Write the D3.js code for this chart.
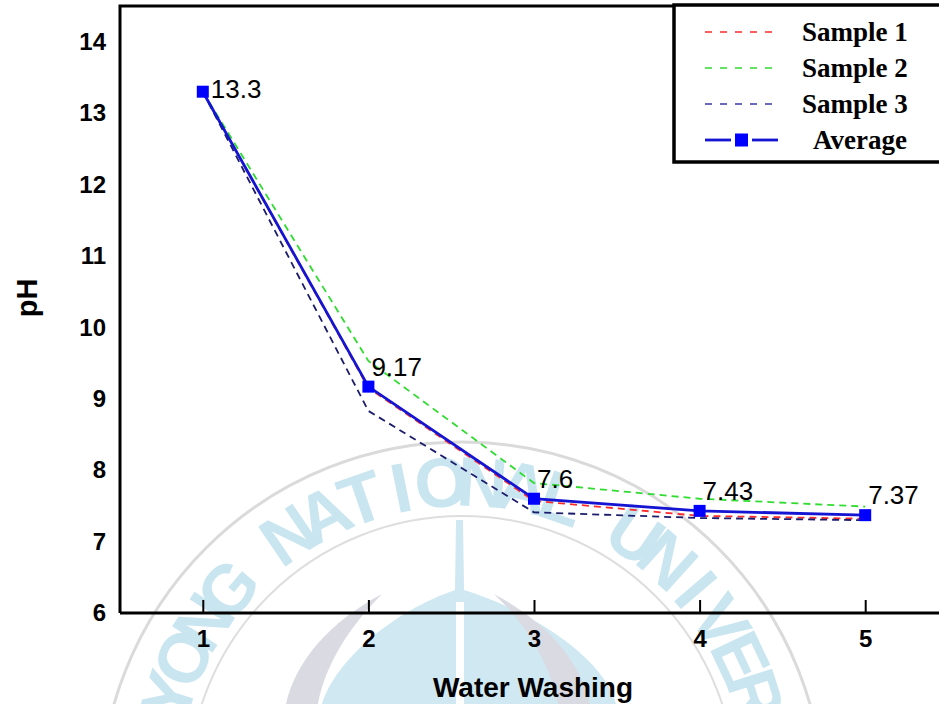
<!DOCTYPE html>
<html>
<head>
<meta charset="utf-8">
<script src="https://cdn.jsdelivr.net/npm/d3@7"></script>
<style>
  body { margin: 0; background: #fff; }
  svg { display: block; font-family: "Liberation Sans", Arial, sans-serif; }
</style>
</head>
<body>
<div id="chart"></div>
<script>
// data
const washes = [1, 2, 3, 4, 5];
const sample1 = [13.3, 9.15, 7.57, 7.36, 7.32];
const sample2 = [13.3, 9.53, 7.82, 7.6, 7.49];
const sample3 = [13.3, 8.83, 7.41, 7.33, 7.3];
const average = [13.3, 9.17, 7.6, 7.43, 7.37];
const avgLabels = ["13.3", "9.17", "7.6", "7.43", "7.37"];
const yTicks = [6, 7, 8, 9, 10, 11, 12, 13, 14];
const legendNames = ["Sample 1", "Sample 2", "Sample 3", "Average"];
// only the part of the watermark that shows inside the picture
const watermarkText = "YONG NATIONAL UNIVER";

const width = 939, height = 704;
const margin = { left: 120, top: 6, bottom: 91 };

const svg = d3.select("#chart")
  .append("svg")
  .attr("width", width)
  .attr("height", height)
  .attr("viewBox", [0, 0, width, height]);

const x = d3.scaleLinear().domain([0.5, 5.5]).range([margin.left, 948]);
const y = d3.scaleLinear().domain([6, 14.5]).range([height - margin.bottom, margin.top]);

// faint university watermark behind the chart
const wm = svg.append("g").attr("class", "watermark");
const cx = 462, cy = 790;
wm.append("circle").attr("cx", cx).attr("cy", cy + 14).attr("r", 362)
  .attr("fill", "none").attr("stroke", "#dadada").attr("stroke-width", 3);
wm.append("circle").attr("cx", cx).attr("cy", cy).attr("r", 274)
  .attr("fill", "none").attr("stroke", "#dedede").attr("stroke-width", 2);
wm.selectAll("text.wm")
  .data(watermarkText.split(""))
  .join("text")
  .attr("class", "wm")
  .attr("transform", (c, i) => `translate(${cx},${cy}) rotate(${(i - 9.5) * 7.6}) translate(0,${-284})`)
  .attr("text-anchor", "middle")
  .attr("font-weight", "bold")
  .attr("font-size", 70)
  .attr("fill", "#c8e5f0")
  .text(c => c);
wm.append("path")
  .attr("d", "M456,520 L463,520 L464,590 C535,612 605,660 616,704 L322,704 C336,660 392,612 455,590 Z")
  .attr("fill", "#cfe8f2");
wm.append("rect").attr("x", 456).attr("y", 602).attr("width", 8).attr("height", 102).attr("fill", "#fff");
wm.append("path")
  .attr("d", "M382,594 C330,622 296,660 286,704 L318,704 C325,666 348,628 382,594 Z")
  .attr("fill", "#dadae2");
wm.append("path")
  .attr("d", "M494,594 C546,622 580,660 590,704 L558,704 C550,666 530,628 494,594 Z")
  .attr("fill", "#dadae2");

// frame
svg.append("path")
  .attr("d", `M${margin.left},${height - margin.bottom} L${margin.left},${margin.top} L${width},${margin.top}`)
  .attr("fill", "none").attr("stroke", "#000").attr("stroke-width", 3);

// x axis with inward ticks
const xAxis = svg.append("g")
  .attr("transform", `translate(0,${height - margin.bottom})`)
  .call(d3.axisBottom(x).tickValues(washes).tickFormat(d3.format("d")).tickSizeInner(-13).tickSizeOuter(0).tickPadding(17));
xAxis.select(".domain").attr("stroke-width", 3).attr("d", `M${margin.left},0H${width}`);
xAxis.selectAll(".tick line").attr("stroke-width", 2);
xAxis.selectAll("text").attr("font-size", 24).attr("font-weight", "bold").attr("fill", "#000")
  .attr("dy", "0.72em");

// y axis, labels only
const yAxis = svg.append("g")
  .attr("transform", `translate(${margin.left},0)`)
  .call(d3.axisLeft(y).tickValues(yTicks).tickSize(0).tickPadding(14));
yAxis.select(".domain").remove();
yAxis.selectAll("text").attr("font-size", 24).attr("font-weight", "bold").attr("fill", "#000");

svg.append("text")
  .attr("x", 533).attr("y", 697)
  .attr("text-anchor", "middle")
  .attr("font-size", 28).attr("font-weight", "bold")
  .text("Water Washing");
svg.append("text")
  .attr("transform", "translate(37,298) rotate(-90)")
  .attr("text-anchor", "middle")
  .attr("font-size", 29).attr("font-weight", "bold")
  .text("pH");

// series
const line = d3.line().x((d, i) => x(washes[i])).y(d => y(d));
const samples = [
  { values: sample1, color: "#ff2a2a" },
  { values: sample2, color: "#2fdc2f" },
  { values: sample3, color: "#1c1c6c" }
];
svg.append("g")
  .selectAll("path")
  .data(samples)
  .join("path")
  .attr("d", d => line(d.values))
  .attr("fill", "none")
  .attr("stroke", d => d.color)
  .attr("stroke-width", 1.8)
  .attr("stroke-dasharray", "7,5");

svg.append("path")
  .attr("d", line(average))
  .attr("fill", "none")
  .attr("stroke", "#1414d2")
  .attr("stroke-width", 2.8);

svg.append("g")
  .selectAll("rect")
  .data(average)
  .join("rect")
  .attr("x", (d, i) => x(washes[i]) - 6)
  .attr("y", d => y(d) - 6)
  .attr("width", 12).attr("height", 12)
  .attr("fill", "#0000ff");

svg.append("g")
  .selectAll("text")
  .data(average)
  .join("text")
  .attr("x", (d, i) => x(washes[i]) + (i === 0 ? 8 : 3))
  .attr("y", d => y(d))
  .attr("dy", (d, i) => i === 0 ? 6 : -11)
  .attr("font-size", 26)
  .attr("fill", "#000")
  .text((d, i) => avgLabels[i]);

// legend
const lg = svg.append("g").attr("font-family", "'Liberation Serif', 'Times New Roman', serif");
lg.append("rect")
  .attr("x", 674).attr("y", 5).attr("width", 280).attr("height", 157)
  .attr("fill", "#fff").attr("stroke", "#000").attr("stroke-width", 3.5);
const rowY = d3.scalePoint().domain(legendNames).range([32, 140]);
const legendColors = samples.map(s => s.color);
legendNames.slice(0, 3).forEach((name, i) => {
  lg.append("line")
    .attr("x1", 705).attr("x2", 778)
    .attr("y1", rowY(name)).attr("y2", rowY(name))
    .attr("stroke", i === 2 ? "#3a3aa8" : legendColors[i])
    .attr("stroke-width", 1.7)
    .attr("stroke-dasharray", "7,8");
});
const ay = rowY("Average");
lg.append("line").attr("x1", 705).attr("x2", 731).attr("y1", ay).attr("y2", ay)
  .attr("stroke", "#1414d2").attr("stroke-width", 2.8);
lg.append("line").attr("x1", 752).attr("x2", 778).attr("y1", ay).attr("y2", ay)
  .attr("stroke", "#1414d2").attr("stroke-width", 2.8);
lg.append("rect").attr("x", 735).attr("y", ay - 6.5).attr("width", 13).attr("height", 13).attr("fill", "#0000ff");
lg.selectAll("text")
  .data(legendNames)
  .join("text")
  .attr("x", d => d === "Average" ? 813 : 802)
  .attr("y", d => rowY(d))
  .attr("dy", "0.33em")
  .attr("font-size", 27)
  .attr("font-weight", "bold")
  .attr("fill", "#000")
  .text(d => d);
</script>
</body>
</html>
